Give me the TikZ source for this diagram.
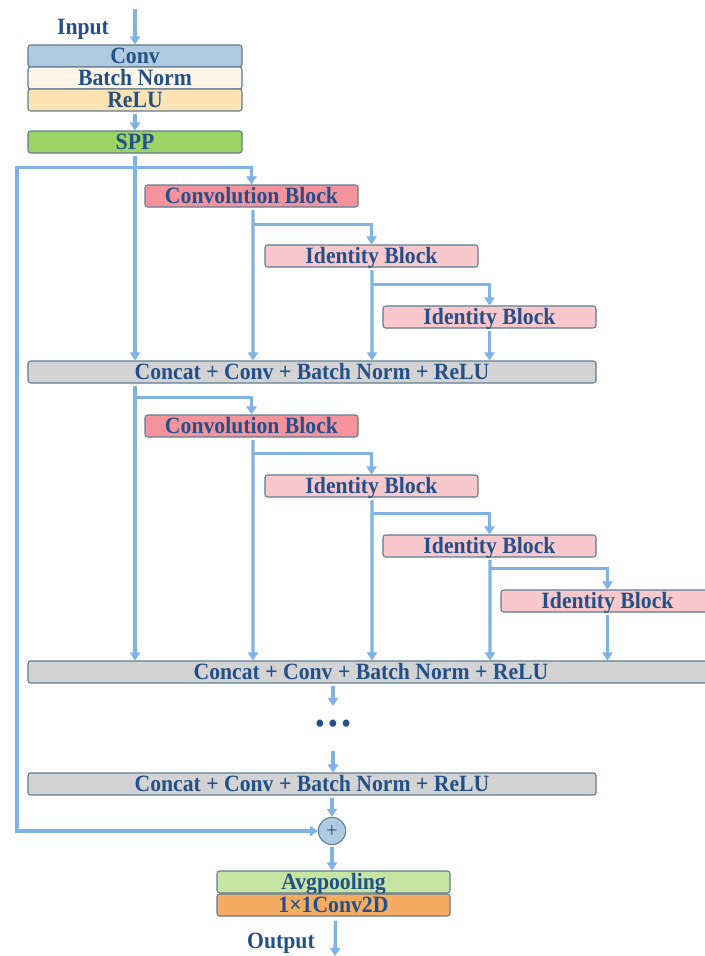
\documentclass[tikz,border=0pt]{standalone}
\usepackage{fontspec}
\setmainfont{Liberation Serif}[FakeStretch=0.93]
\usetikzlibrary{arrows.meta,calc}
\definecolor{edgec}{HTML}{5E7C92}
\definecolor{flow}{HTML}{7FB2E5}
\definecolor{ink}{HTML}{235089}
\definecolor{convc}{HTML}{AFCBDF}
\definecolor{bnc}{HTML}{FFF6E8}
\definecolor{reluc}{HTML}{FDE3B3}
\definecolor{sppc}{HTML}{9CD364}
\definecolor{cbc}{HTML}{F5939C}
\definecolor{idc}{HTML}{F8C8CC}
\definecolor{catc}{HTML}{D3D3D3}
\definecolor{avgc}{HTML}{C6E5A3}
\definecolor{outc}{HTML}{F4AC62}
\tikzset{
  layer/.style={draw=edgec, line width=0.8pt, rounded corners=2pt, inner sep=0pt,
    minimum height=16.5pt, text height=13pt, text depth=2pt, text=ink,
    font=\fontsize{17.5}{17.5}\selectfont\bfseries},
  wide/.style={layer, minimum width=160.5pt},
  blk/.style={layer, minimum width=159.75pt},
  cat/.style={layer, fill=catc},
  lbl/.style={text=ink, font=\fontsize{17.5}{17.5}\selectfont\bfseries},
  flowline/.style={draw=flow, line width=2.5pt},
  arr/.style={flowline, -{Triangle[width=7.5pt,length=6pt]}},
}
\begin{document}
\begin{tikzpicture}[x=0.75pt,y=-0.75pt]
\useasboundingbox (0,0) rectangle (705,956);

% stem
\node[wide, fill=convc] (conv) at (135,56) {Conv};
\node[wide, fill=bnc]   (bn)   at (135,78) {Batch Norm};
\node[wide, fill=reluc] (relu) at (135,100) {ReLU};
\node[wide, fill=sppc]  (spp)  at (135,142) {SPP};
\node[lbl] (in) at (83,29) {Input};
\coordinate (inTop) at (135,9);

% first dense stage
\node[blk, fill=cbc] (cb1) at (251.5,196) {Convolution Block};
\node[blk, fill=idc] (id1) at (371.5,256) {Identity Block};
\node[blk, fill=idc] (id2) at (489.5,317) {Identity Block};
\node[cat, minimum width=426pt] (cat1) at (312,372) {Concat + Conv + Batch Norm + ReLU};

% second dense stage
\node[blk, fill=cbc] (cb2) at (251.5,426) {Convolution Block};
\node[blk, fill=idc] (id3) at (371.5,486) {Identity Block};
\node[blk, fill=idc] (id4) at (489.5,546) {Identity Block};
\node[blk, fill=idc] (id5) at (607.5,601) {Identity Block};
\node[cat, minimum width=514.5pt] (cat2) at (371,672) {Concat + Conv + Batch Norm + ReLU};

% tail
\node[lbl, font=\fontsize{20}{20}\selectfont\bfseries] (dots) at (333,726) {\textbullet\,\textbullet\,\textbullet};
\coordinate (dotsIn) at (333,706);
\coordinate (dotsOut) at (333,751);
\node[cat, minimum width=426pt] (cat3) at (312,784) {Concat + Conv + Batch Norm + ReLU};
\node[circle, draw=edgec, line width=0.8pt, fill=convc, minimum size=20.5pt, inner sep=0pt,
      text=ink, font=\fontsize{16}{16}\selectfont] (plus) at (332,831) {+};
\node[layer, fill=avgc, minimum width=174.75pt] (avg) at (333.5,882) {Avgpooling};
\node[layer, fill=outc, minimum width=174.75pt] (c2d) at (333.5,905) {1×1Conv2D};
\node[lbl] (out) at (281,943) {Output};
\coordinate (outEnd) at (335,956);

% stem arrows
\draw[arr] (inTop) -- (conv.north);
\draw[arr] ([yshift=-1.5pt]relu.south) -- (spp.north);

% first stage wiring
\coordinate (s0) at ($(spp.south)+(0,14)$);
\draw[arr] ([yshift=-1.5pt]spp.south) -- (spp.south |- cat1.north);
\draw[arr] (s0) -| (cb1.north);
\coordinate (s1) at ($(cb1.south)+(1.5,17)$);
\draw[arr] ([xshift=1.1pt,yshift=-2pt]cb1.south) -- (s1 |- cat1.north);
\draw[arr] (s1) -| (id1.north);
\coordinate (s2) at ($(id1.south)+(0.5,17)$);
\draw[arr] ([xshift=0.4pt,yshift=-2pt]id1.south) -- (s2 |- cat1.north);
\draw[arr] (s2) -| (id2.north);
\draw[arr] ([yshift=-2pt]id2.south) -- (id2.south |- cat1.north);

% second stage wiring
\coordinate (t0) at ($(cat1.south -| spp.south)+(0,14)$);
\draw[arr] ([yshift=-2pt]cat1.south -| spp.south) -- (spp.south |- cat2.north);
\draw[arr] (t0) -| (cb2.north);
\coordinate (t1) at ($(cb2.south)+(1.5,16)$);
\draw[arr] ([xshift=1.1pt,yshift=-2pt]cb2.south) -- (t1 |- cat2.north);
\draw[arr] (t1) -| (id3.north);
\coordinate (t2) at ($(id3.south)+(0.5,16)$);
\draw[arr] ([xshift=0.4pt,yshift=-2pt]id3.south) -- (t2 |- cat2.north);
\draw[arr] (t2) -| (id4.north);
\coordinate (t3) at ($(id4.south)+(0.5,11)$);
\draw[arr] ([xshift=0.4pt,yshift=-2pt]id4.south) -- (t3 |- cat2.north);
\draw[arr] (t3) -| (id5.north);
\draw[arr] ([yshift=-2pt]id5.south) -- (id5.south |- cat2.north);

% tail wiring
\draw[arr] ([yshift=-1.5pt]cat2.south -| dotsIn) -- (dotsIn);
\draw[arr] (dotsOut) -- (dotsOut |- cat3.north);
\draw[arr] ([yshift=-1.5pt]cat3.south -| plus) -- (plus.north);
\draw[arr] (s0) -- (s0 -| 17,0) |- (plus.west);
\draw[arr] ([yshift=-1.5pt]plus.south) -- (plus |- avg.north);
\draw[arr] ([xshift=1.5pt,yshift=-3pt]c2d.south) -- (outEnd);
\end{tikzpicture}
\end{document}
